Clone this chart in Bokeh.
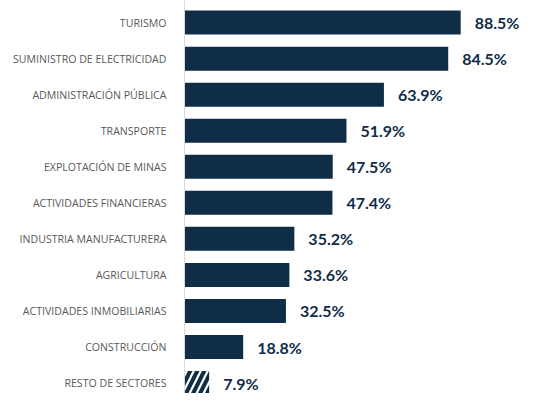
from bokeh.plotting import figure
from bokeh.models import ColumnDataSource, Range1d, FixedTicker
from bokeh.core.properties import value
from bokeh.embed import file_html
from bokeh.resources import INLINE

categories = ["TURISMO", "SUMINISTRO DE ELECTRICIDAD", "ADMINISTRACIÓN PÚBLICA", "TRANSPORTE",
              "EXPLOTACIÓN DE MINAS", "ACTIVIDADES FINANCIERAS", "INDUSTRIA MANUFACTURERA",
              "AGRICULTURA", "ACTIVIDADES INMOBILIARIAS", "CONSTRUCCIÓN", "RESTO DE SECTORES"]
values = [88.5, 84.5, 63.9, 51.9, 47.5, 47.4, 35.2, 33.6, 32.5, 18.8, 7.9]

NAVY = "#102d48"
n = len(categories)
pos = list(range(n))
labels = [f"{v:.1f}%" for v in values]

main = ColumnDataSource(dict(y=pos[:-1], v=values[:-1], lab=labels[:-1]))
rest = ColumnDataSource(dict(y=pos[-1:], v=values[-1:], lab=labels[-1:]))

p = figure(width=522, height=393, output_backend="svg", toolbar_location=None,
           x_range=Range1d(0, 108.3), y_range=Range1d(10.29, -0.613),
           min_border_left=184, min_border_right=0, min_border_top=0, min_border_bottom=0)
p.outline_line_color = None
p.grid.visible = False
p.xaxis.visible = False

p.hbar(y="y", right="v", left=0, height=0.666, source=main, fill_color=NAVY, line_color=None)
p.hbar(y="y", right="v", left=0, height=0.666, source=rest, fill_color="white", line_color=None,
       hatch_pattern="/", hatch_color=NAVY, hatch_weight=4, hatch_scale=14)

for src in (main, rest):
    p.text(x="v", y="y", text="lab", source=src, x_offset=14, text_align="left",
           text_baseline="middle", text_font=value("Lato"), text_font_style="bold",
           text_font_size="16px", text_color=NAVY)

ax = p.yaxis[0]
ax.ticker = FixedTicker(ticks=pos)
ax.major_label_overrides = {i: c for i, c in enumerate(categories)}
ax.major_tick_line_color = None
ax.minor_tick_line_color = None
ax.axis_line_color = "#d9d9d9"
ax.axis_line_width = 1
ax.major_label_text_font = "Open Sans"
ax.major_label_text_font_size = "10.6px"
ax.major_label_text_color = "#595959"
ax.major_label_standoff = 12

open("out.html", "w").write(file_html(p, INLINE))
